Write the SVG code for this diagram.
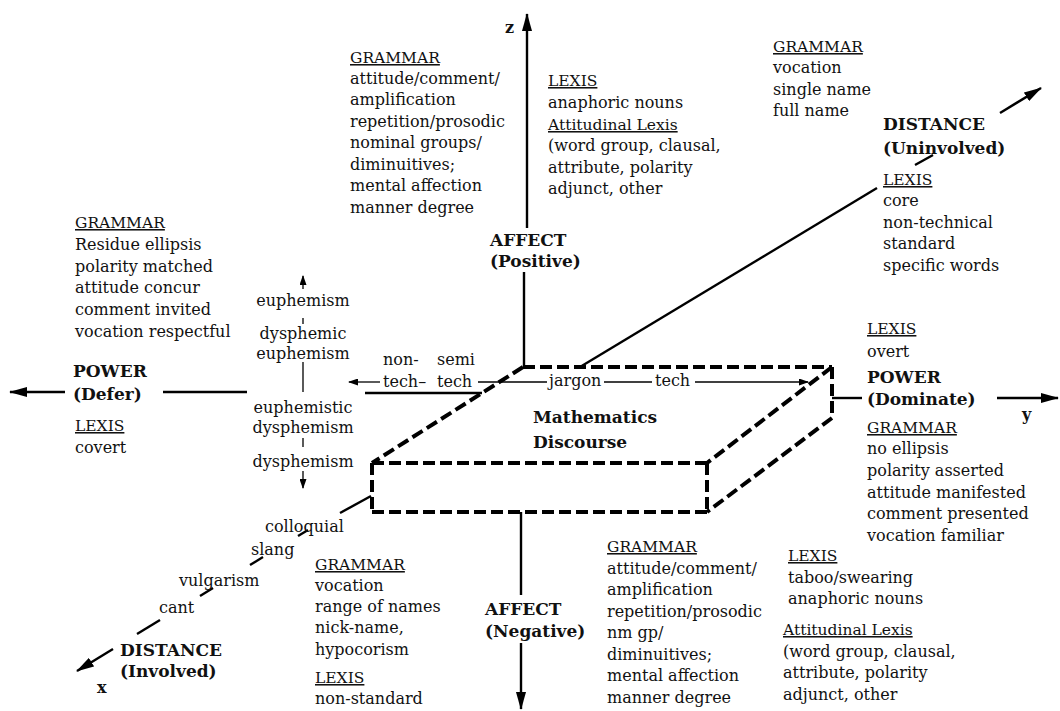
<svg xmlns="http://www.w3.org/2000/svg" width="1060" height="711" viewBox="0 0 1060 711">
  <defs>
    <marker id="head" viewBox="0 0 18 10" refX="17" refY="5" markerWidth="18" markerHeight="10" markerUnits="userSpaceOnUse" orient="auto">
      <path d="M0,0 L18,5 L0,10 z" fill="#000"/>
    </marker>
    <marker id="headSmall" viewBox="0 0 10 7" refX="9" refY="3.5" markerWidth="10" markerHeight="7" markerUnits="userSpaceOnUse" orient="auto">
      <path d="M0,0 L10,3.5 L0,7 z" fill="#000"/>
    </marker>
    <style>
      text { font-family: "DejaVu Serif", "Liberation Serif", serif; font-size: 16px; fill: #111; }
      .h { font-size: 15.5px; text-decoration: underline; }
      .b { font-size: 17px; font-weight: bold; }
      .lbl { font-size: 16px; font-weight: bold; }
      .axis { stroke: #000; stroke-width: 2.4; fill: none; }
      .thin { stroke: #000; stroke-width: 1.3; fill: none; }
      .dash { stroke: #000; stroke-width: 4; stroke-dasharray: 12 5; fill: none; }
    </style>
  </defs>

  <rect width="1060" height="711" fill="#fff"/>

  <!-- axes, scales and the dashed slab -->
  <g id="connectors">
    <!-- z axis: AFFECT -->
    <path class="axis" d="M527,228 L527,14" marker-end="url(#head)"/>
    <path class="axis" d="M524,272 L524,367"/>
    <path class="axis" d="M521,512 L521,595"/>
    <path class="axis" d="M521,643 L521,709" marker-end="url(#head)"/>

    <!-- y axis: POWER -->
    <path class="axis" d="M65,392 L10,392" marker-end="url(#head)"/>
    <path class="axis" d="M163,392 L247,392"/>
    <path class="axis" d="M365,393 L482,393"/>
    <path class="axis" d="M832,398 L862,398"/>
    <path class="axis" d="M997,398 L1058,398" marker-end="url(#head)"/>

    <!-- diagonal: DISTANCE (Uninvolved) -->
    <path class="axis" d="M580,367 L877,188"/>
    <path class="axis" d="M915,165 L933,155"/>
    <path class="axis" d="M1000,113 L1041,88" marker-end="url(#head)"/>

    <!-- diagonal: DISTANCE (Involved) -->
    <path class="axis" d="M371,496 L340,513"/>
    <path class="axis" d="M308,530 L298,536"/>
    <path class="axis" d="M263,557 L250,565"/>
    <path class="axis" d="M213,588 L200,596"/>
    <path class="axis" d="M160,620 L137,634"/>
    <path class="axis" d="M113,649 L77,671" marker-end="url(#head)"/>

    <!-- euphemism / dysphemism scale -->
    <path class="thin" d="M303,289 L303,276" marker-end="url(#headSmall)"/>
    <path class="thin" d="M303,318 L303,324"/>
    <path class="thin" d="M303,362 L303,392"/>
    <path class="thin" d="M303,438 L303,447"/>
    <path class="thin" d="M303,471 L303,488" marker-end="url(#headSmall)"/>

    <!-- technicality scale -->
    <path class="thin" d="M380,382 L349,382" marker-end="url(#headSmall)"/>
    <path class="thin" d="M478,382 L547,382"/>
    <path class="thin" d="M604,382 L652,382"/>
    <path class="thin" d="M695,382 L808,382" marker-end="url(#headSmall)"/>

    <!-- slab edges -->
    <g id="slab">
      <path class="dash" d="M523,367 L832,367"/>
      <path class="dash" d="M832,367 L832,418"/>
      <path class="dash" d="M832,367 L707,463"/>
      <path class="dash" d="M832,418 L707,512"/>
      <path class="dash" d="M523,367 L372,463"/>
      <path class="dash" d="M372,463 L707,463"/>
      <path class="dash" d="M372,512 L707,512"/>
      <path class="dash" d="M372,463 L372,512"/>
      <path class="dash" d="M707,463 L707,512"/>
    </g>
  </g>

  <!-- axis letters -->
  <g id="axis-letters">
    <text class="lbl" x="505" y="33">z</text>
    <text class="lbl" x="1022" y="420">y</text>
    <text class="lbl" x="97" y="693">x</text>
  </g>

  <g id="slab-label">
    <text class="b" x="533" y="423">Mathematics</text>
    <text class="b" x="533" y="448">Discourse</text>
  </g>

  <g id="affect-positive">
    <text class="b" x="490" y="246">AFFECT</text>
    <text class="b" x="490" y="267">(Positive)</text>
  </g>

  <g id="affect-positive-grammar">
    <text class="h" x="350" y="63">GRAMMAR</text>
    <text x="350" y="84">attitude/comment/</text>
    <text x="350" y="105">amplification</text>
    <text x="350" y="127">repetition/prosodic</text>
    <text x="350" y="148">nominal groups/</text>
    <text x="350" y="170">diminuitives;</text>
    <text x="350" y="191">mental affection</text>
    <text x="350" y="213">manner degree</text>
  </g>

  <g id="affect-positive-lexis">
    <text class="h" x="548" y="86">LEXIS</text>
    <text x="548" y="108">anaphoric nouns</text>
    <text class="h" x="548" y="130">Attitudinal Lexis</text>
    <text x="548" y="151">(word group, clausal,</text>
    <text x="548" y="173">attribute, polarity</text>
    <text x="548" y="194">adjunct, other</text>
  </g>

  <g id="uninvolved-grammar">
    <text class="h" x="773" y="52">GRAMMAR</text>
    <text x="773" y="73">vocation</text>
    <text x="773" y="95">single name</text>
    <text x="773" y="116">full name</text>
  </g>

  <g id="distance-uninvolved">
    <text class="b" x="883" y="130">DISTANCE</text>
    <text class="b" x="883" y="154">(Uninvolved)</text>
    <text class="h" x="883" y="185">LEXIS</text>
    <text x="883" y="206">core</text>
    <text x="883" y="228">non-technical</text>
    <text x="883" y="249">standard</text>
    <text x="883" y="271">specific words</text>
  </g>

  <g id="power-defer">
    <text class="h" x="75" y="228">GRAMMAR</text>
    <text x="75" y="250">Residue ellipsis</text>
    <text x="75" y="272">polarity matched</text>
    <text x="75" y="293">attitude concur</text>
    <text x="75" y="315">comment invited</text>
    <text x="75" y="337">vocation respectful</text>
    <text class="b" x="73" y="377">POWER</text>
    <text class="b" x="73" y="400">(Defer)</text>
    <text class="h" x="75" y="431">LEXIS</text>
    <text x="75" y="453">covert</text>
  </g>

  <g id="euphemism-scale" text-anchor="middle">
    <text x="303" y="306">euphemism</text>
    <text x="303" y="339">dysphemic</text>
    <text x="303" y="359">euphemism</text>
    <text x="303" y="413">euphemistic</text>
    <text x="303" y="433">dysphemism</text>
    <text x="303" y="467">dysphemism</text>
  </g>

  <g id="technicality-scale">
    <text x="383" y="365">non-</text>
    <text x="437" y="365">semi</text>
    <text x="383" y="387">tech–</text>
    <text x="437" y="387">tech</text>
    <text x="549" y="386">jargon</text>
    <text x="655" y="386">tech</text>
  </g>

  <g id="power-dominate">
    <text class="h" x="867" y="334">LEXIS</text>
    <text x="867" y="357">overt</text>
    <text class="b" x="867" y="383">POWER</text>
    <text class="b" x="867" y="405">(Dominate)</text>
    <text class="h" x="867" y="433">GRAMMAR</text>
    <text x="867" y="454">no ellipsis</text>
    <text x="867" y="476">polarity asserted</text>
    <text x="867" y="498">attitude manifested</text>
    <text x="867" y="519">comment presented</text>
    <text x="867" y="541">vocation familiar</text>
  </g>

  <g id="affect-negative-lexis">
    <text class="h" x="788" y="561">LEXIS</text>
    <text x="788" y="583">taboo/swearing</text>
    <text x="788" y="604">anaphoric nouns</text>
    <text class="h" x="783" y="635">Attitudinal Lexis</text>
    <text x="783" y="657">(word group, clausal,</text>
    <text x="783" y="678">attribute, polarity</text>
    <text x="783" y="700">adjunct, other</text>
  </g>

  <g id="affect-negative-grammar">
    <text class="h" x="607" y="552">GRAMMAR</text>
    <text x="607" y="574">attitude/comment/</text>
    <text x="607" y="595">amplification</text>
    <text x="607" y="617">repetition/prosodic</text>
    <text x="607" y="638">nm gp/</text>
    <text x="607" y="660">diminuitives;</text>
    <text x="607" y="681">mental affection</text>
    <text x="607" y="703">manner degree</text>
  </g>

  <g id="affect-negative">
    <text class="b" x="485" y="615">AFFECT</text>
    <text class="b" x="485" y="637">(Negative)</text>
  </g>

  <g id="distance-involved">
    <text x="265" y="532">colloquial</text>
    <text x="251" y="555">slang</text>
    <text x="179" y="586">vulgarism</text>
    <text x="159" y="613">cant</text>
    <text class="b" x="120" y="656">DISTANCE</text>
    <text class="b" x="120" y="677">(Involved)</text>
  </g>

  <g id="involved-grammar">
    <text class="h" x="315" y="570">GRAMMAR</text>
    <text x="315" y="591">vocation</text>
    <text x="315" y="612">range of names</text>
    <text x="315" y="633">nick-name,</text>
    <text x="315" y="655">hypocorism</text>
    <text class="h" x="315" y="683">LEXIS</text>
    <text x="315" y="704">non-standard</text>
  </g>
</svg>
